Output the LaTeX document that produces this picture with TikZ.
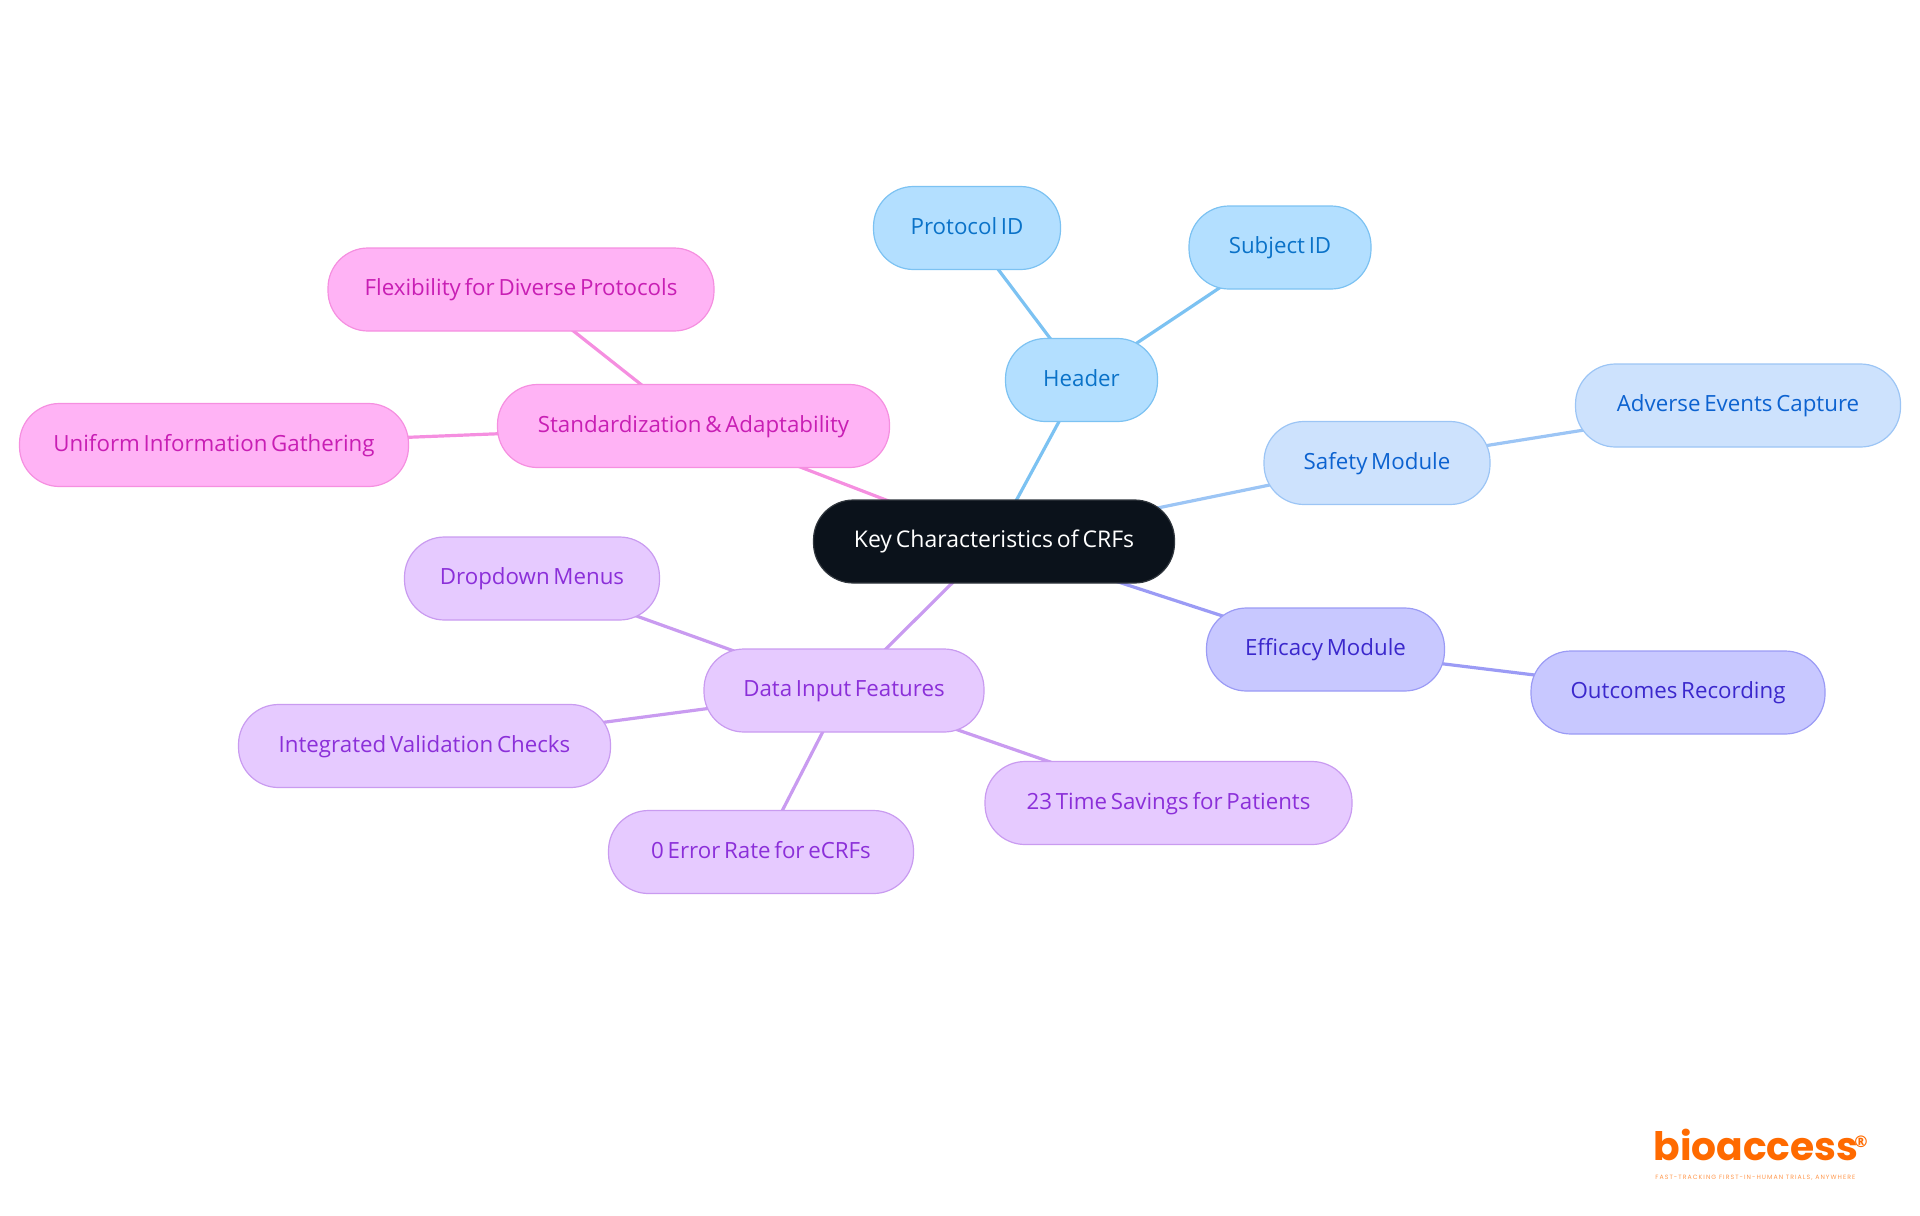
\documentclass[tikz,border=0pt]{standalone}
\usepackage{fontspec}
\setmainfont[WordSpace=0.65]{Open Sans}
\newfontfamily\logofont{Poppins}
\newfontfamily\tagfont[LetterSpace=17]{Poppins}
\usetikzlibrary{backgrounds}
\definecolor{headfill}{HTML}{B3DFFF}
\definecolor{headline}{HTML}{7CC2F2}
\definecolor{headtext}{HTML}{0A72C8}
\definecolor{safefill}{HTML}{CDE2FD}
\definecolor{safeline}{HTML}{9CC5F5}
\definecolor{safetext}{HTML}{0C62D0}
\definecolor{efffill}{HTML}{C8C8FF}
\definecolor{effline}{HTML}{9B9BF5}
\definecolor{efftext}{HTML}{3B28CC}
\definecolor{datafill}{HTML}{E6CAFF}
\definecolor{dataline}{HTML}{C99BF0}
\definecolor{datatext}{HTML}{8B2FD9}
\definecolor{stdfill}{HTML}{FFB3F5}
\definecolor{stdline}{HTML}{F58FE0}
\definecolor{stdtext}{HTML}{C81EB4}
\definecolor{rootfill}{HTML}{0B121B}
\definecolor{logoorange}{HTML}{FF6A00}
\tikzset{
  pill/.style={rounded corners=20pt,minimum height=41.5pt,inner sep=0pt,line width=0.6pt,
    text height=9pt,text depth=3pt,font=\fontsize{11.15}{14}\selectfont},
  rootbox/.style={pill,fill=rootfill,draw=rootfill!85!white,text=white,font=\fontsize{11.5}{14}\selectfont},
  headbox/.style={pill,fill=headfill,draw=headline,text=headtext},
  safebox/.style={pill,fill=safefill,draw=safeline,text=safetext},
  effbox/.style={pill,fill=efffill,draw=effline,text=efftext},
  databox/.style={pill,fill=datafill,draw=dataline,text=datatext},
  stdbox/.style={pill,fill=stdfill,draw=stdline,text=stdtext},
}
\begin{document}
\begin{tikzpicture}[x=0.5pt,y=-0.5pt,line cap=round]
  \useasboundingbox (0,0) rectangle (1920,1215);
  \foreach \n/\px/\py/\w/\s/\l in {
      root/994/541.5/361/rootbox/Key Characteristics of CRFs,
      header/1081.5/380/152/headbox/Header,
      protocol/967/228/187/headbox/Protocol ID,
      subject/1280/247.5/182/headbox/Subject ID,
      safety/1377/463/226/safebox/Safety Module,
      adverse/1738/405.5/325/safebox/Adverse Events Capture,
      efficacy/1325.5/649.5/238/effbox/Efficacy Module,
      outcomes/1678/692.5/294/effbox/Outcomes Recording,
      input/844/690.5/280/databox/Data Input Features,
      dropdown/532/578.5/255/databox/Dropdown Menus,
      checks/424.5/746/372/databox/Integrated Validation Checks,
      errors/761/852/305/databox/0 Error Rate for eCRFs,
      savings/1168.5/803/367/databox/23 Time Savings for Patients,
      standard/693.5/426/392/stdbox/Standardization \& Adaptability,
      flexible/521/289.5/386/stdbox/Flexibility for Diverse Protocols,
      uniform/214/445/389/stdbox/Uniform Information Gathering}{
    \node[\s,minimum width=\w*0.5pt] (\n) at (\px,\py) {\l};
  }
  \begin{scope}[on background layer]
    \foreach \a/\b/\c in {root/header/headline, header/protocol/headline, header/subject/headline,
        root/safety/safeline, safety/adverse/safeline,
        root/efficacy/effline, efficacy/outcomes/effline,
        root/input/dataline, input/dropdown/dataline, input/checks/dataline,
        input/errors/dataline, input/savings/dataline,
        root/standard/stdline, standard/flexible/stdline, standard/uniform/stdline}{
      \draw[\c,line width=1.6pt] (\a.center) -- (\b.center);
    }
  \end{scope}
  % logo
  \node[logoorange,anchor=base west,inner sep=0pt,font=\logofont\bfseries\fontsize{19.6}{20}\selectfont] (logo) at (1653,1160.5) {bioaccess};
  \node[logoorange,anchor=center,inner sep=0pt,font=\bfseries\fontsize{8}{8}\selectfont] (logomark) at (1861,1142) {®};
  \node[logoorange!70!white,anchor=base west,inner sep=0pt,font=\tagfont\fontsize{3.1}{4}\selectfont] (logotag) at (1655,1179) {FAST-TRACKING FIRST-IN-HUMAN TRIALS, ANYWHERE};
\end{tikzpicture}
\end{document}
